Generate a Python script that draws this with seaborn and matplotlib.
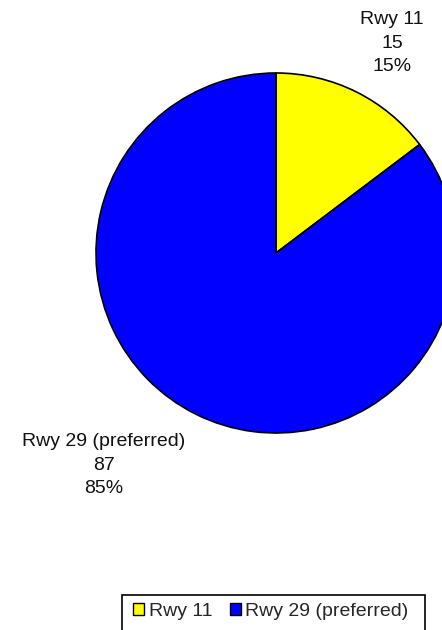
import matplotlib
matplotlib.use("Agg")
import matplotlib.pyplot as plt
import seaborn as sns
from matplotlib.patches import Patch, Rectangle

categories = ["Rwy 11", "Rwy 29 (preferred)"]
counts = [15, 87]
colors = ["#ffff00", "#0000ff"]

sns.set_theme(style="white")
plt.rcParams["font.family"] = ["Liberation Sans", "DejaVu Sans"]

W, H = 442, 630
fig = plt.figure(figsize=(W / 100, H / 100), dpi=100)
ax = fig.add_axes([0, 0, 1, 1])

cx, cy, R = 276, H - 253, 180
wedges, _ = ax.pie(counts, colors=colors, startangle=90, counterclock=False,
                   center=(cx, cy), radius=R, frame=True,
                   wedgeprops=dict(edgecolor="black", linewidth=1.2))
ax.set_xlim(0, W)
ax.set_ylim(0, H)
ax.set_aspect("equal")
ax.axis("off")

total = sum(counts)
label_pos = [(392, H - 43), (104, H - 465)]
for name, n, (x, y) in zip(categories, counts, label_pos):
    pct = round(100 * n / total)
    ax.text(x, y, f"{name}\n{n}\n{pct}%", ha="center", va="center",
            fontsize=14, linespacing=1.5, color="#111111")

# legend box outline, running off the bottom edge
fig.patches.append(Rectangle((122 / W, -0.01), (425 - 122) / W, (H - 595) / H + 0.01,
                             transform=fig.transFigure, facecolor="white",
                             edgecolor="black", linewidth=1.2, zorder=2))

handles = [Patch(facecolor=c, edgecolor="black", linewidth=1) for c in colors]
leg = fig.legend(handles, categories, loc="center left",
                 bbox_to_anchor=(133 / W, 1 - 611 / H),
                 ncol=2, frameon=False,
                 fontsize=14, handlelength=0.58, handleheight=0.58,
                 handletextpad=0.22, columnspacing=0.9, borderpad=0,
                 borderaxespad=0)
leg.set_zorder(3)

fig.savefig("out.png", dpi=100)
